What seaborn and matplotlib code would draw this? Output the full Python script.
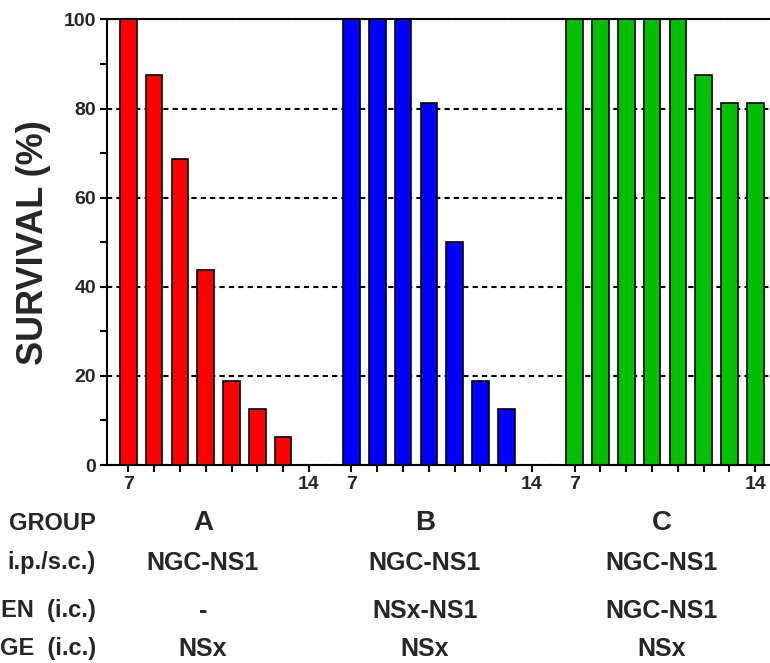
import pandas as pd
import matplotlib.pyplot as plt
from matplotlib.ticker import MultipleLocator
import seaborn as sns

# survival per day (7..14) for each group
days = [7, 8, 9, 10, 11, 12, 13, 14]
groups = ['A', 'B', 'C']
survival_a = [100, 87.5, 68.75, 43.75, 18.75, 12.5, 6.25, 0]
survival_b = [100, 100, 100, 81.25, 50, 18.75, 12.5, 0]
survival_c = [100, 100, 100, 100, 100, 87.5, 81.25, 81.25]

immunization = ['NGC-NS1', 'NGC-NS1', 'NGC-NS1']
regimen = ['-', 'NSx-NS1', 'NGC-NS1']
challenge = ['NSx', 'NSx', 'NSx']
row_labels = ['GROUP', 'i.p./s.c.)', 'EN  (i.c.)', 'GE  (i.c.)']

colors = {'A': '#ff0000', 'B': '#0000ff', 'C': '#00c000'}
group_gap = 8.65  # offset between groups in bar units

rows = []
for g, vals in zip(groups, [survival_a, survival_b, survival_c]):
    for d, v in zip(days, vals):
        rows.append({'group': g, 'day': d, 'survival': v,
                     'pos': groups.index(g) * group_gap + (d - days[0])})
df = pd.DataFrame(rows)

sns.set_style('ticks')
plt.rcParams['font.family'] = ['Liberation Sans', 'DejaVu Sans']
plt.rcParams['font.weight'] = 'bold'

W, H = 770, 663
fig = plt.figure(figsize=(W / 100, H / 100), dpi=100)
ax = fig.add_axes([107 / W, 1 - 465 / H, (W - 107) / W, (465 - 19.5) / H])

sns.barplot(data=df, x='pos', y='survival', hue='group', palette=colors,
            native_scale=True, dodge=False, width=0.64, saturation=1,
            edgecolor='black', linewidth=1.2, legend=False, ax=ax)

ax.set_ylim(0, 100)
ax.set_xlim(-0.826, -0.826 + (W - 107) / 25.8)
ax.yaxis.set_major_locator(MultipleLocator(20))
ax.set_yticks([10, 30, 50, 70, 90], minor=True)
ax.grid(axis='y', color='black', linestyle=(0, (2.5, 2)), linewidth=1.5)
ax.set_axisbelow(True)

ax.set_xticks(df['pos'])
ax.set_xticklabels([str(d) if d in (7, 14) else '' for d in df['day']])
ax.tick_params(axis='both', which='major', length=5, width=1.5, color='black',
               labelsize=14, pad=3)
ax.tick_params(axis='y', which='minor', length=5, width=1.5, color='black')
for lab in ax.get_xticklabels() + ax.get_yticklabels():
    lab.set_fontweight('bold')

for side in ['left', 'bottom', 'top']:
    ax.spines[side].set_linewidth(1.5)
    ax.spines[side].set_color('black')
ax.spines['right'].set_visible(False)

ax.set_xlabel('')
ax.set_ylabel('SURVIVAL (%)', fontsize=26, fontweight='bold', labelpad=9)

# table of treatments under the chart
label_x = [203, 425, 662]
row_y = [523, 563, 611, 649]
for x, g, im, rg, ch in zip(label_x, groups, immunization, regimen, challenge):
    fig.text(x / W, 1 - row_y[0] / H, g, ha='center', va='center', fontsize=20, fontweight='bold')
    fig.text(x / W, 1 - row_y[1] / H, im, ha='center', va='center', fontsize=18, fontweight='bold')
    fig.text(x / W, 1 - row_y[2] / H, rg, ha='center', va='center', fontsize=18, fontweight='bold')
    fig.text(x / W, 1 - row_y[3] / H, ch, ha='center', va='center', fontsize=18, fontweight='bold')
for lab, y in zip(row_labels, row_y):
    fig.text(96 / W, 1 - y / H, lab, ha='right', va='center', fontsize=17, fontweight='bold')

plt.savefig('out.png', dpi=100)
